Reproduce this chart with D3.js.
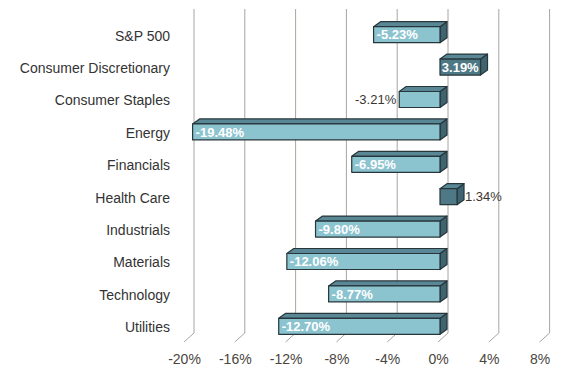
<!DOCTYPE html>
<html><head><meta charset="utf-8">
<script src="https://cdn.jsdelivr.net/npm/d3@7"></script>
<style>html,body{margin:0;padding:0;background:#fff;}svg{display:block;font-family:Arial,"Liberation Sans",sans-serif;}</style>
</head><body>
<svg id="c" width="563" height="384"></svg>
<script>
const categories = ["S&P 500","Consumer Discretionary","Consumer Staples","Energy","Financials","Health Care","Industrials","Materials","Technology","Utilities"];
const values = [-5.23, 3.19, -3.21, -19.48, -6.95, 1.34, -9.80, -12.06, -8.77, -12.70];
const ticks = [-20, -16, -12, -8, -4, 0, 4, 8];

const svg = d3.select("#c");
const depth = {dx: 10, dy: -9};     // plot back-plane offset
const bDepth = {dx: 7, dy: -5};     // bar depth offset
const FONT = "Arial,'Liberation Sans',sans-serif";

// front-plane x scale
const x = d3.scaleLinear().domain([-20, 8]).range([184, 539.6]);
const xb = v => x(v) + 2; // bar front face
const y = d3.scaleBand().domain(categories).range([18, 342]).paddingInner(0).paddingOuter(0);
const barH = 16;

// gridlines on back wall + diagonal floor ticks
const g = svg.append("g");
ticks.forEach(t => {
  const xf = x(t), xk = xf + depth.dx;
  g.append("line").attr("x1", xk).attr("x2", xk).attr("y1", 18 + depth.dy).attr("y2", 342 + depth.dy)
    .attr("stroke", "#aaa49e").attr("stroke-width", 1);
  g.append("line").attr("x1", xk).attr("y1", 342 + depth.dy).attr("x2", xf).attr("y2", 342)
    .attr("stroke", "#aaa49e").attr("stroke-width", 1);
});

// x axis labels
const xAxis = d3.axisBottom(x).tickValues(ticks).tickFormat(d => d + "%").tickSize(0).tickPadding(0);
const ax = svg.append("g").attr("transform", "translate(0,354)").call(xAxis);
ax.select(".domain").remove();
ax.selectAll("text").attr("font-size", 14).attr("fill", "#4a4540").attr("font-family", FONT).attr("dy", "0.71em");

// category labels
const yAxis = d3.axisLeft(y).tickSize(0).tickPadding(0);
const ay = svg.append("g").attr("transform", "translate(170,2)").call(yAxis);
ay.select(".domain").remove();
ay.selectAll("text").attr("font-size", 14).attr("fill", "#333").attr("font-family", FONT);

// bars
const bars = svg.append("g");
const stroke = "#27363b";
categories.forEach((c, i) => {
  const v = values[i];
  const x0 = Math.min(xb(v), xb(0)), x1 = Math.max(xb(v), xb(0));
  const yc = y(c) + y.bandwidth() / 2 + 0.5;
  const y0 = yc - barH / 2, y1 = yc + barH / 2;
  const dx = bDepth.dx, dy = bDepth.dy;
  const pos = v > 0;
  const gb = bars.append("g").attr("stroke", stroke).attr("stroke-width", 1.2).attr("stroke-linejoin", "round");
  // side
  gb.append("path").attr("d", `M${x1},${y0}L${x1+dx},${y0+dy}L${x1+dx},${y1+dy}L${x1},${y1}Z`).attr("fill", "#3d6470");
  // top
  gb.append("path").attr("d", `M${x0},${y0}L${x0+dx},${y0+dy}L${x1+dx},${y0+dy}L${x1},${y0}Z`).attr("fill", "#5a8795");
  // front
  gb.append("rect").attr("x", x0).attr("y", y0).attr("width", x1 - x0).attr("height", y1 - y0)
    .attr("fill", pos ? "#4f7886" : "#8bc3cf");

  const lbl = v.toFixed(2) + "%";
  const t = bars.append("text").text(lbl).attr("font-size", 13).attr("font-weight", "bold")
    .attr("font-family", FONT).attr("y", yc).attr("dy", "0.36em");
  const w = t.node().getComputedTextLength();
  const bw = x1 - x0;
  if (w + 2 <= bw) {
    t.attr("fill", "#fff");
    if (pos) t.attr("x", (x0 + x1) / 2).attr("text-anchor", "middle");
    else t.attr("x", x0 + 3).attr("text-anchor", "start");
  } else {
    t.attr("fill", "#3a3530").attr("font-weight", "normal");
    if (pos) t.attr("x", x1 + dx + 1).attr("text-anchor", "start");
    else t.attr("x", x0 - 3).attr("text-anchor", "end");
  }
});
</script>
</body></html>
